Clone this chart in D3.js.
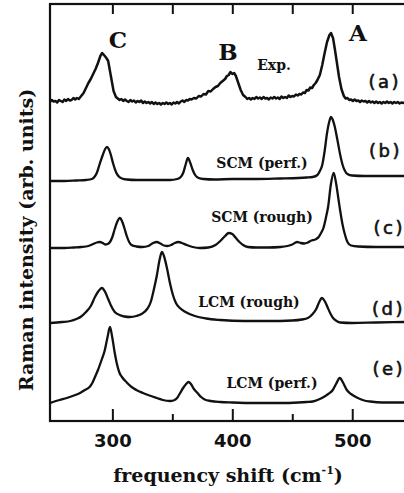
<!DOCTYPE html>
<html>
<head>
<meta charset="utf-8">
<script src="https://cdn.jsdelivr.net/npm/d3@7"></script>
<style>
  body { margin: 0; background: #fff; }
  svg { display: block; }
  .lbl { font-family: "DejaVu Serif", serif; font-weight: bold; fill: #111; }
  .panel { font-family: "DejaVu Sans", sans-serif; fill: #111; font-size: 18px; letter-spacing: 2.5px; stroke: #111; stroke-width: 0.6; }
</style>
</head>
<body>
<svg id="chart" width="404" height="493"></svg>
<script>
// spectra: [frequency (cm-1), intensity incl. vertical offset]
const expA = [[248,319],[249.5,321],[251,319.5],[252.5,320],[254,318.5],[255.5,321],[257,320],[258.5,319],[260,321.5],[261.5,320],[263,322],[264.5,320.5],[266,321],[267.5,323],[269,321.5],[270.5,323],[272,322],
  [274,325],[276,328],[278,333],[280,338],[282,342],[284,347],[286,352],[288,358],[290,365],[291.5,368],[293,366],[295,363],[296.5,360],[298,350],[299.5,340],[301,330],[303,324],
  [304.5,322.5],[306,321],[307.5,322],[309,320],[310.5,321.5],[312,320],[313.5,319],[315,321],[316.5,319.5],[318,320.5],[319.5,318.5],[321,320],[322.5,319],[324,320.5],[325.5,318],[327,319.5],[328.5,318],[330,319],[331.5,317.5],[333,319],[334.5,317],[336,318.5],[337.5,317],[339,318],[340.5,316.5],[342,318],[343.5,317],[345,318.5],[346.5,317],[348,318],[349.5,316.5],[351,318.5],[352.5,317.5],[354,319],[355.5,317.5],[357,319.5],[358.5,320.5],[360,319],[361.5,321],[363,320.5],[364.5,322],
  [366,321.5],[368,323],[370,322.5],[372,325],[374,324.5],[376,327],[378,326.5],[380,330],[382,329.5],[384,332],[386,334],[388,335],[390,338],[392,340],[394,342],[395.5,345],[397,346],[398.5,349],[400,347],[401.5,348],[403,345],[405,338],[407,331],[409,326],[411,324],
  [412.5,322],[414,323],[415.5,321.5],[417,323],[418.5,322],[420,324],[421.5,322.5],[423,323.5],[424.5,322],[426,324],[427.5,322.5],[429,323],[430.5,321.5],[432,323.5],[433.5,322.5],[435,324],[436.5,322.5],[438,323.5],[439.5,322],[441,324.5],[442.5,323],[444,324],[445.5,323],[447,325.5],[448.5,324],[450,325],[451.5,324.5],[453,326.5],[454.5,325.5],[456,327],[457.5,326.5],[459,328.5],[460.5,328],[462,331],[463.5,330.5],[465,333.5],[466.5,333],[468,336],
  [469.5,338],[471,341],[473,346],[475,356],[477,368],[479,379],[481,386],[482.3,388],[484,383],[485.5,372],[487,360],[489,344],[491,332],[493,325],
  [494.5,322.5],[496,323],[497.5,321],[499,321.5],[500.5,320],[502,321.5],[503.5,320],[505,320.5],[506.5,319],[508,320.5],[509.5,319.5],[511,320],[512.5,318.5],[514,320],[515.5,318.5],[517,319.5],[518.5,318],[520,319.5],[521.5,318],[523,319],[524.5,317.5],[526,319],[527.5,318],[529,319.5],[530.5,318],[532,319],[533.5,317.5],[535,319],[536.5,318],[538,319],[539.5,317.5],[541,318.5],[542.5,318],[544,319]];

const scmPerf = [[248,240],[260,240],[270,240.5],[278,241],[283,242],[285,244],[287,248],[289.7,258],[292,266],[294,272],[295.5,274],[297,272],[299,265],[300.5,258],[303,249],[305,245],[308,242.5],[312,241.5],[320,241],[335,241],[348,241],[354,242],[357,244],[359,248],[361,256],[363,263],[365,258],[367,251],[369,246],[372,243],[376,242],[385,241.5],[400,242],[420,242],[440,242.5],[455,243],[462,243.5],[467,244],[471,246],[473,250],[475,256],[477,270],[479,288],[481,300],[482.3,304],[483.5,302],[485.5,294],[487.5,282],[490,266],[492,256],[494,250],[496,247],[500,245.5],[510,245],[525,245],[544,245]];

const scmRough = [[248,173],[260,173],[268,173.5],[274,174],[280,175],[284,177],[287,178.5],[289.5,179],[292,178],[294,176.5],[296,177],[298,179],[300,184],[302,192],[304,199],[306.3,203],[308,200],[310,193],[312,185],[314,179],[316,176],[320,174.5],[325,174],[330,175],[334,178],[337,179],[340,177.5],[343,175.5],[346,175],[349,176],[352,178],[355,179],[358,178],[362,176],[367,174],[373,173],[380,173.5],[386,176],[390,180],[394,185],[397,188],[400,187],[403,183],[406,179],[409,176],[413,174],[420,173.5],[430,173.5],[440,174],[446,175],[450,176.5],[454,179],[457,178],[460,177.5],[463,178.5],[466,180.5],[468,181],[470,182],[472,184],[474,188],[476,193],[478,203],[480,215],[482,235],[484.5,248],[486.5,238],[488.5,222],[490,210],[492,196],[494,186],[496,179],[499,175.5],[505,174.5],[520,174],[544,174]];

const lcmRough = [[248,98],[258,99],[265,100],[270,102],[274,104.5],[278,109],[282,115],[285.5,124],[288.5,130],[291.3,133],[294,129],[296.5,122],[299,115],[302,109],[306,106],[310,104.5],[314.7,104],[320,105],[325,107.5],[329,112],[332,119],[334.5,131],[337,145],[339.5,162],[341.3,169],[343,165],[345.5,153],[348,138],[350.5,126],[353,118],[356.3,113],[361,109],[368.8,105],[378,102.5],[390,101],[410,100],[430,100],[450,100.5],[458,101.5],[463,103],[467,107],[470,112],[472.5,119],[474.7,123],[477,120],[479.7,113],[482,107],[484,103],[487,100],[490,98.5],[500,98],[520,98.5],[544,99]];

const lcmPerf = [[248,18],[250.5,19],[256,21],[262,23],[268,25.5],[273,28],[277,31],[281,34],[283.5,38.5],[285.5,44],[288,51],[291,61],[293.5,70],[296,84],[298,94],[300,83],[302,68],[304,56],[306,48],[308,44],[312,38.5],[316,34],[320,31],[325.5,28],[331,25.5],[337,23],[342,21],[348,20],[351,20.5],[354,23],[356.5,28],[359,33],[361.5,37],[363.5,39],[365.5,37],[368,32],[371,28],[374,24],[377,21.5],[382,20],[390,19],[400,18.5],[420,18],[440,18],[455,18.5],[462,19],[467,19.5],[472,21.5],[475.5,23.5],[480,27],[483.8,31],[486.5,37],[489.7,43],[492.5,38],[495.5,31],[499,27],[504.7,23],[510,20.5],[515,19.5],[525,18.5],[544,18.5]];

const majorTicks = [300, 400, 500];
const minorTicks = [350, 450];
const topTicks = [300, 350, 400, 450, 500];

const svg = d3.select("#chart");
const mLeft = 50, mTop = 4, mBottom = 421, mRight = 405;

const x = d3.scaleLinear().domain([248, 544]).range([mLeft, mRight]);
const y = d3.scaleLinear().domain([0, 417]).range([mBottom, mTop]);

const lineSmooth = d3.line().x(d => x(d[0])).y(d => y(d[1])).curve(d3.curveMonotoneX);
const lineRaw = d3.line().x(d => x(d[0])).y(d => y(d[1]));

// frame
svg.append("rect")
  .attr("x", mLeft).attr("y", mTop)
  .attr("width", mRight - mLeft + 10).attr("height", mBottom - mTop)
  .attr("fill", "none").attr("stroke", "#111").attr("stroke-width", 2.2);

// axes (ticks point inward)
const gB = svg.append("g").attr("transform", `translate(0,${mBottom})`)
  .call(d3.axisBottom(x).tickValues(majorTicks).tickSize(-12).tickPadding(13).tickFormat(d3.format("d")));
svg.append("g").attr("transform", `translate(0,${mBottom})`)
  .call(d3.axisBottom(x).tickValues(minorTicks).tickSize(-7).tickFormat(""));
svg.append("g").attr("transform", `translate(0,${mTop})`)
  .call(d3.axisTop(x).tickValues(topTicks).tickSize(-10).tickFormat(""));
svg.selectAll(".domain").remove();
svg.selectAll(".tick line").attr("stroke", "#111").attr("stroke-width", 2);
gB.selectAll(".tick text")
  .attr("fill", "#111")
  .style("font-family", "'DejaVu Sans', sans-serif")
  .style("font-weight", "bold")
  .style("font-size", "18px");

// spectra
svg.append("path").datum(expA).attr("d", lineRaw)
  .attr("fill", "none").attr("stroke", "#111").attr("stroke-width", 2.5).attr("stroke-linejoin", "round");
[scmPerf, scmRough, lcmRough, lcmPerf].forEach(s => {
  svg.append("path").datum(s).attr("d", lineSmooth)
    .attr("fill", "none").attr("stroke", "#111").attr("stroke-width", 2.3);
});

// annotations
const notes = [
  {t: "C", x: 118, y: 48, s: 23},
  {t: "B", x: 228, y: 60, s: 23},
  {t: "A", x: 358, y: 41, s: 23},
  {t: "Exp.", x: 274, y: 70, s: 14},
  {t: "SCM (perf.)", x: 262, y: 168, s: 14},
  {t: "SCM (rough)", x: 262, y: 222, s: 14},
  {t: "LCM (rough)", x: 249, y: 307, s: 14},
  {t: "LCM (perf.)", x: 272, y: 388, s: 14}
];
svg.selectAll(".note").data(notes).join("text")
  .attr("class", "lbl").attr("text-anchor", "middle")
  .attr("x", d => d.x).attr("y", d => d.y)
  .style("font-size", d => d.s + "px")
  .text(d => d.t);

const panels = [["(a)", 401, 88], ["(b)", 402, 157], ["(c)", 405, 234], ["(d)", 405, 315], ["(e)", 405, 375]];
svg.selectAll(".panel").data(panels).join("text")
  .attr("class", "panel").attr("text-anchor", "end")
  .attr("x", d => d[1]).attr("y", d => d[2])
  .text(d => d[0]);

// axis titles
const xt = svg.append("text").attr("class", "lbl")
  .attr("x", 228).attr("y", 482).attr("text-anchor", "middle")
  .style("font-size", "19px");
xt.append("tspan").text("frequency shift (cm");
xt.append("tspan").attr("dy", -8).style("font-size", "11px").text("-1");
xt.append("tspan").attr("dy", 8).text(")");

svg.append("text").attr("class", "lbl")
  .attr("transform", "translate(33,240) rotate(-90)")
  .attr("text-anchor", "middle")
  .style("font-size", "19px")
  .text("Raman intensity (arb. units)");
</script>
</body>
</html>
